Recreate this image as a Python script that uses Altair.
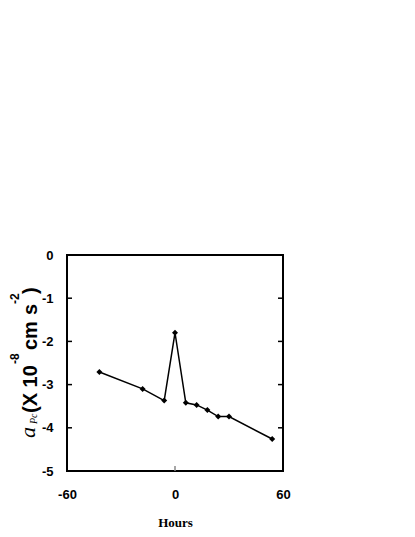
import altair as alt
import pandas as pd

hours = [-42, -18, -6, 0, 6, 12, 18, 24, 30, 54]
accel = [-2.71, -3.10, -3.37, -1.80, -3.42, -3.47, -3.59, -3.74, -3.74, -4.26]
y_tick_values = [-1, -2, -3, -4]
x_tick_values = [-60, 0, 60]
y_label_values = [0, -1, -2, -3, -4, -5]

df = pd.DataFrame({"hours": hours, "accel": accel})
yt = pd.DataFrame({"v": y_tick_values})

W, H = 216, 216

x_scale = alt.Scale(domain=[-60, 60], nice=False)
y_scale = alt.Scale(domain=[-5, 0], nice=False)

x_enc = alt.X("hours:Q", scale=x_scale,
              axis=alt.Axis(values=x_tick_values, title="Hours", labelFont="Liberation Sans",
                            labelFontWeight="bold", labelFontSize=13, labelPadding=17,
                            labelFlush=False, labelColor="black", labelExpr="'' + datum.value",
                            titleFont="Liberation Serif", titleFontWeight="bold",
                            titleFontSize=13, titlePadding=15, titleColor="black"))
y_enc = alt.Y("accel:Q", scale=y_scale,
              axis=alt.Axis(values=y_label_values, title=None, labelFont="Liberation Sans",
                            labelFontWeight="bold", labelFontSize=13, labelPadding=14,
                            labelFlush=False, labelColor="black", labelExpr="'' + datum.value"))

line = alt.Chart(df).mark_line(color="black", strokeWidth=1.5).encode(x=x_enc, y=y_enc)
pts = alt.Chart(df).mark_point(shape="diamond", filled=True, color="black", size=36, opacity=1).encode(
    x="hours:Q", y="accel:Q")

left_ticks = alt.Chart(yt).mark_rule(color="black", strokeWidth=1.5).encode(
    y=alt.Y("v:Q", scale=y_scale), x=alt.value(0), x2=alt.value(5))
right_ticks = alt.Chart(yt).mark_rule(color="black", strokeWidth=1.5).encode(
    y=alt.Y("v:Q", scale=y_scale), x=alt.value(W - 5), x2=alt.value(W))
bot_tick = alt.Chart(pd.DataFrame({"h": [0]})).mark_rule(color="#888888", strokeWidth=1.5).encode(
    x=alt.X("h:Q", scale=x_scale), y=alt.value(H - 5), y2=alt.value(H))


def piece(txt, px, py, size, font, weight="normal", style="normal"):
    return alt.Chart(pd.DataFrame({"t": [txt]})).mark_text(
        angle=270, align="left", baseline="alphabetic", font=font, fontSize=size,
        fontWeight=weight, fontStyle=style, color="black").encode(
        text="t:N", x=alt.value(px - 67), y=alt.value(py - 255))


title_parts = [
    piece("a", 35, 438, 22, "Liberation Serif", style="italic"),
    piece("Pc", 37, 424, 10, "Liberation Serif", style="italic"),
    piece("(X 10", 37, 413, 20, "Liberation Sans", weight="bold"),
    piece("-8", 19, 364, 12, "Liberation Sans", weight="bold"),
    piece("cm", 37, 350, 20, "Liberation Sans", weight="bold"),
    piece("s", 37, 315, 20, "Liberation Sans", weight="bold"),
    piece("-2", 19, 304, 12, "Liberation Sans", weight="bold"),
    piece(")", 37, 294, 20, "Liberation Sans", weight="bold"),
]

chart = alt.layer(line, pts, left_ticks, right_ticks, bot_tick, *title_parts).properties(
    width=W, height=H,
    autosize=alt.AutoSizeParams(type="none"),
    padding={"left": 59, "top": 247, "right": 40, "bottom": 60},
).configure_view(stroke="black", strokeWidth=2).configure_axis(
    domain=False, grid=False, ticks=False, tickSize=0)

chart.save("out.html", embed_options={"renderer": "svg", "actions": False})
